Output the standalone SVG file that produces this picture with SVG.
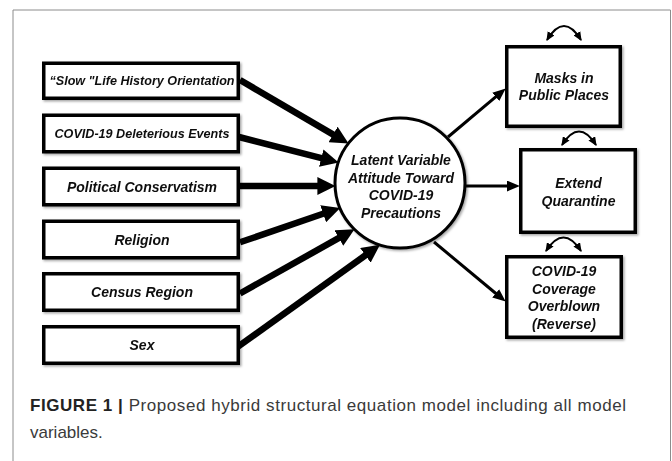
<svg xmlns="http://www.w3.org/2000/svg" width="672" height="461" viewBox="0 0 672 461">
<style>
.box{fill:#fff;stroke:#000;stroke-width:3.5}
.lbl{font-family:"Liberation Sans",Arial,sans-serif;font-weight:bold;font-style:italic;font-size:14px;fill:#111;text-anchor:middle}
.sm{font-size:12.6px}
.thick{stroke:#000;stroke-width:6.5;fill:none;marker-end:url(#big)}
.thin{stroke:#000;stroke-width:3;fill:none;marker-end:url(#small)}
.cov{stroke:#000;stroke-width:2;fill:none;marker-start:url(#tiny);marker-end:url(#tiny)}
.cap{font-family:"Liberation Sans",Arial,sans-serif;font-size:17px;fill:#3a3a3a}
</style>
<defs>
<filter id="sh" x="-10%" y="-10%" width="130%" height="140%">
<feDropShadow dx="1.5" dy="1.5" stdDeviation="1" flood-color="#000" flood-opacity="0.35"/>
</filter>
<marker id="big" markerUnits="userSpaceOnUse" markerWidth="18" markerHeight="18" refX="2" refY="8" orient="auto" viewBox="0 0 16 16">
<path d="M0,0 L16,8 L0,16 z" fill="#000"/>
</marker>
<marker id="small" markerUnits="userSpaceOnUse" markerWidth="13" markerHeight="11" refX="1" refY="5" orient="auto" viewBox="0 0 12 10">
<path d="M0,0 L12,5 L0,10 z" fill="#000"/>
</marker>
<marker id="tiny" markerUnits="userSpaceOnUse" markerWidth="9" markerHeight="8" refX="7" refY="3.5" orient="auto-start-reverse" viewBox="0 0 8 7">
<path d="M0,0 L8,3.5 L0,7 z" fill="#000"/>
</marker>
</defs>
<rect width="672" height="461" fill="#fff"/>
<path d="M13,470 V10 H670.5 V470" fill="none" stroke="#8c8c8c" stroke-width="1"/>

<g id="connectors">
<line class="thick" x1="240" y1="80" x2="335" y2="135.6"/>
<line class="thick" x1="239" y1="137" x2="323.4" y2="158.7"/>
<line class="thick" x1="240" y1="186" x2="319.6" y2="186"/>
<line class="thick" x1="240" y1="242.3" x2="325.3" y2="213.05"/>
<line class="thick" x1="240" y1="293.5" x2="340.8" y2="236.9"/>
<line class="thick" x1="238" y1="346.7" x2="367.2" y2="254"/>
<line class="thin" x1="448" y1="137" x2="496.6" y2="96.1"/>
<line class="thin" x1="464" y1="186" x2="508" y2="186"/>
<line class="thin" x1="434" y1="242" x2="496.5" y2="294"/>
<path class="cov" d="M547,40 Q564,12 581,40"/>
<path class="cov" d="M562,145 Q579,118 596,145"/>
<path class="cov" d="M546,251 Q563.5,224 581,251"/>
</g>

<g id="n-slow" filter="url(#sh)">
<rect class="box" x="43.75" y="63.25" width="194.5" height="35"/>
<text class="lbl sm" x="142" y="85.3">“Slow "Life History Orientation</text>
</g>
<g id="n-events" filter="url(#sh)">
<rect class="box" x="43.75" y="115.25" width="194.5" height="36.5"/>
<text class="lbl sm" x="142" y="137.8">COVID-19 Deleterious Events</text>
</g>
<g id="n-political" filter="url(#sh)">
<rect class="box" x="43.75" y="168.25" width="194.5" height="36.5"/>
<text class="lbl" x="142" y="191.5">Political Conservatism</text>
</g>
<g id="n-religion" filter="url(#sh)">
<rect class="box" x="43.75" y="221.25" width="194.5" height="36.5"/>
<text class="lbl" x="142" y="244.5">Religion</text>
</g>
<g id="n-census" filter="url(#sh)">
<rect class="box" x="43.75" y="273.75" width="194.5" height="36.5"/>
<text class="lbl" x="142" y="297">Census Region</text>
</g>
<g id="n-sex" filter="url(#sh)">
<rect class="box" x="43.75" y="326.75" width="194.5" height="36.5"/>
<text class="lbl" x="142" y="350">Sex</text>
</g>

<g id="n-latent" filter="url(#sh)">
<circle cx="400" cy="183" r="65" fill="#fff" stroke="#000" stroke-width="3"/>
<text class="lbl" x="401" y="165">Latent Variable</text>
<text class="lbl" x="401" y="182.5">Attitude Toward</text>
<text class="lbl" x="401" y="200">COVID-19</text>
<text class="lbl" x="401" y="217.5">Precautions</text>
</g>

<g id="n-masks" filter="url(#sh)">
<rect class="box" x="506.75" y="46.75" width="113.5" height="79.5"/>
<text class="lbl" x="564" y="82.7">Masks in</text>
<text class="lbl" x="564" y="100">Public Places</text>
</g>
<g id="n-quarantine" filter="url(#sh)">
<rect class="box" x="520.75" y="149.75" width="114.5" height="82.5"/>
<text class="lbl" x="578.5" y="188.3">Extend</text>
<text class="lbl" x="578.5" y="206">Quarantine</text>
</g>
<g id="n-overblown" filter="url(#sh)">
<rect class="box" x="506.75" y="256.75" width="114.5" height="80.5"/>
<text class="lbl" x="564" y="276">COVID-19</text>
<text class="lbl" x="564" y="293.7">Coverage</text>
<text class="lbl" x="564" y="311.3">Overblown</text>
<text class="lbl" x="564" y="329">(Reverse)</text>
</g>

<g id="caption">
<text class="cap" x="30" y="411" textLength="596"><tspan font-weight="bold" fill="#222">FIGURE 1 | </tspan>Proposed hybrid structural equation model including all model</text>
<text class="cap" x="30" y="438">variables.</text>
</g>
</svg>
